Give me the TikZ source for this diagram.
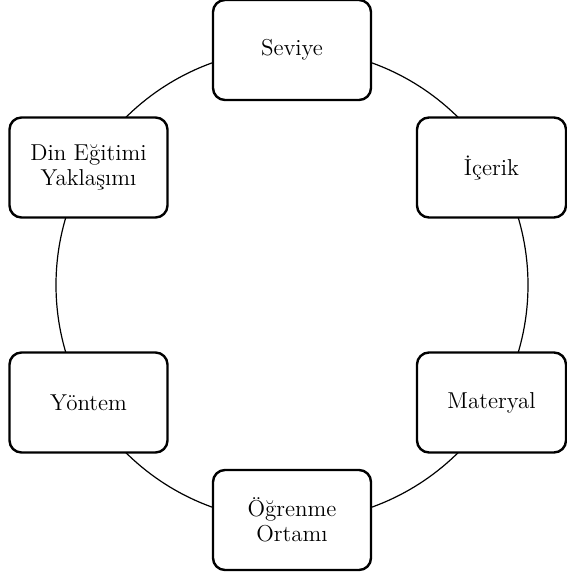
\documentclass[tikz,border=0pt]{standalone}

\begin{document}
\begin{tikzpicture}[semithick]
	  \tikzstyle{every node}=[font=\fontsize{11.5}{12.5}\selectfont,text=black]
	  \tikzstyle{box}=[draw=black,fill=white,line width=1.2pt,rounded corners=6pt,
	                   minimum width=79pt,minimum height=50pt,align=center]
	  \tikzstyle{cut box}=[box,minimum width=74.5pt,xshift=-2pt]

	  \useasboundingbox (-146pt,-144.5pt) rectangle (137.5pt,142.5pt);

	  \coordinate (O) at (0,0);
	  \draw (O) circle (118pt);

	  \node[box]     (S) at (90:117.5pt)  {Seviye};
	  \node[cut box] (I) at (30:117.5pt)  {İçerik};
	  \node[cut box] (M) at (-30:117.5pt) {Materyal};
	  \node[box]     (O2) at (-90:117.5pt) {Öğrenme\\Ortamı};
	  \node[box]     (Y) at (210:117.5pt) {Yöntem};
	  \node[box]     (D) at (150:117.5pt) {Din Eğitimi\\Yaklaşımı};
	\end{tikzpicture}
\end{document}
